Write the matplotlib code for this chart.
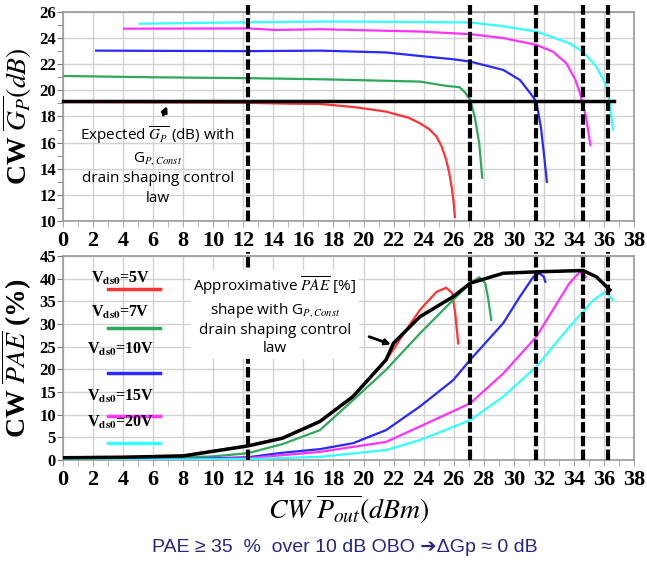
import numpy as np
import matplotlib
matplotlib.use("Agg")
import matplotlib.pyplot as plt

plt.rcParams['mathtext.fontset'] = 'stix'

# Gp (dB) vs Pout (dBm), one curve per Vds0
gp_red_x = [0, 6, 12, 15, 17.1, 19.5, 21.5, 23, 23.75, 24.4, 24.86, 25.2, 25.5, 25.7, 25.86, 26.0, 26.08]
gp_red_y = [19.1, 19.08, 19.05, 18.98, 18.96, 18.7, 18.37, 17.9, 17.48, 17.0, 16.45, 15.7, 14.67, 13.7, 12.63, 11.4, 10.3]
gp_green_x = [0, 6, 12.4, 17.1, 23.75, 25.5, 26.4, 26.8, 27.1, 27.4, 27.7, 27.9]
gp_green_y = [21.1, 21.0, 20.93, 20.85, 20.67, 20.34, 20.24, 19.78, 19.26, 17.99, 15.95, 13.3]
gp_blue_x = [2.2, 12.3, 17.1, 21.5, 23.75, 25.96, 27.1, 29.3, 30.4, 31.1, 31.5, 31.8, 32.0, 32.2]
gp_blue_y = [23.04, 23.0, 23.04, 22.9, 22.63, 22.38, 22.2, 21.56, 20.8, 19.78, 19.13, 17.2, 15.2, 13.0]
gp_mag_x = [4.06, 12.3, 14.2, 17.1, 23.75, 27.1, 29.3, 31.5, 32.6, 33.5, 34.1, 34.4, 34.8, 35.1]
gp_mag_y = [24.72, 24.74, 24.62, 24.68, 24.5, 24.3, 24.0, 23.48, 22.96, 22.07, 20.8, 19.8, 18.0, 15.8]
gp_cyan_x = [5.1, 11.6, 17.9, 27.1, 29.3, 31.5, 33.7, 34.6, 35.5, 36.1, 36.4, 36.6]
gp_cyan_y = [25.1, 25.2, 25.27, 25.2, 24.9, 24.5, 23.6, 22.96, 21.8, 20.5, 19.0, 17.0]
gp_const = 19.2
gp_const_xmax = 36.7

# PAE (%) vs Pout (dBm)
pae_black_x = [0, 4, 8, 12.3, 14.6, 17.1, 19.3, 21.5, 22.0, 23.75, 25.96, 27.1, 29.3, 31.5, 34.6, 35.5, 36.4]
pae_black_y = [0.5, 0.6, 0.9, 3.1, 4.8, 8.5, 14.0, 22.1, 25.8, 31.6, 36.0, 39.0, 41.2, 41.5, 41.8, 40.4, 37.5]
pae_red_x = [0, 4, 8, 12.3, 14.6, 17.1, 19.3, 21.5, 22.5, 23.75, 24.86, 25.5, 25.9, 26.1, 26.3]
pae_red_y = [0.6, 0.7, 1.0, 3.2, 4.9, 8.6, 14.1, 22.0, 27.0, 33.1, 37.1, 38.0, 36.8, 32.4, 25.7]
pae_green_x = [0, 6, 10, 12.3, 14.6, 17.1, 19.3, 21.5, 23.75, 25.96, 27.1, 27.7, 28.1, 28.3, 28.5]
pae_green_y = [0.3, 0.4, 0.8, 1.5, 3.5, 6.6, 13.2, 19.9, 27.9, 35.3, 39.0, 40.3, 39.0, 35.5, 30.9]
pae_blue_x = [0, 8, 12.3, 14.6, 17.1, 19.3, 21.5, 23.75, 25.96, 27.1, 29.3, 30.4, 31.3, 31.7, 32.0, 32.1]
pae_blue_y = [0.1, 0.2, 0.6, 1.6, 2.4, 3.7, 6.6, 11.8, 17.6, 22.1, 30.2, 36.0, 40.4, 41.2, 40.4, 39.3]
pae_mag_x = [0, 8, 12.3, 17.1, 21.5, 23.75, 27.1, 29.3, 31.5, 32.6, 33.7, 34.4, 34.8]
pae_mag_y = [0.0, 0.1, 0.4, 1.8, 4.0, 7.4, 12.5, 19.1, 27.2, 33.1, 39.0, 41.5, 40.4]
pae_cyan_x = [0, 8, 12.3, 17.1, 21.5, 23.75, 27.1, 29.3, 31.5, 33.7, 35.3, 36.1, 36.6]
pae_cyan_y = [0.0, 0.1, 0.2, 0.7, 2.2, 4.4, 8.8, 14.0, 20.6, 29.4, 35.3, 37.1, 35.3]

obo_marks = [12.3, 27.1, 31.5, 34.6, 36.3]
legend_labels = ["5V", "7V", "10V", "15V", "20V"]
colors = ["#ff3333", "#2fa85a", "#2828ff", "#ff33ff", "#33ffff"]

fig = plt.figure(figsize=(6.47, 5.75), dpi=100)
ax1 = fig.add_axes([0.0974, 0.6157, 0.8825, 0.3635])
ax2 = fig.add_axes([0.0974, 0.2, 0.8825, 0.3548])

tick_font = dict(family="Liberation Serif", weight="bold")


def style(ax, ymin, ymax, ystep):
    ax.set_xlim(0, 38)
    ax.set_ylim(ymin, ymax)
    ax.set_xticks(np.arange(0, 39, 2))
    ax.set_xticks(np.arange(0, 39, 1), minor=True)
    ax.set_yticks(np.arange(ymin, ymax + 0.1, ystep))
    ax.grid(True, which="major", color="#d2d2d2", lw=1)
    for s in ax.spines.values():
        s.set_color("#999999")
        s.set_linewidth(1.2)
    ax.tick_params(axis="x", which="both", length=4, color="#aaaaaa", pad=3)
    ax.tick_params(axis="y", which="both", length=4, color="#777777", pad=1)
    for lab in ax.get_xticklabels():
        lab.set_fontproperties(tick_font)
        lab.set_fontsize(16)
    for lab in ax.get_yticklabels():
        lab.set_fontproperties(tick_font)
        lab.set_fontsize(12)


style(ax1, 10, 26, 2)
ax1.set_yticks(np.arange(10, 27, 1), minor=True)
style(ax2, 0, 45, 5)

# top panel
for (x, y), c in zip([(gp_red_x, gp_red_y), (gp_green_x, gp_green_y), (gp_blue_x, gp_blue_y),
                      (gp_mag_x, gp_mag_y), (gp_cyan_x, gp_cyan_y)], colors):
    ax1.plot(x, y, color=c, lw=1.6, zorder=3)
ax1.plot([0, gp_const_xmax], [gp_const, gp_const], color="black", lw=2.5, zorder=4, clip_on=False)
for xm in obo_marks:
    ax1.axvline(xm, ymin=0, ymax=1.035, color="black", lw=3, ls=(0, (2.5, 0.8)), zorder=5, clip_on=False)

ax1.text(6.3, 14.3, "Expected $\\overline{G_P}$ (dB) with\nG$_{P,Const}$\ndrain shaping control\nlaw",
         ha="center", va="center", fontsize=11, family="Open Sans", linespacing=1.4, zorder=6)
ax1.annotate("", xy=(7.0, 19.0), xytext=(6.6, 17.9),
             arrowprops=dict(arrowstyle="-|>", color="black", lw=2, mutation_scale=8), zorder=6)
ax1.set_ylabel("CW $\\overline{G_P}(dB)$", fontsize=20, family="Liberation Serif", weight="bold", labelpad=4)

# bottom panel
for (x, y), c in zip([(pae_red_x, pae_red_y), (pae_green_x, pae_green_y), (pae_blue_x, pae_blue_y),
                      (pae_mag_x, pae_mag_y), (pae_cyan_x, pae_cyan_y)], colors):
    ax2.plot(x, y, color=c, lw=1.6, zorder=3)
ax2.plot(pae_black_x, pae_black_y, color="black", lw=2.5, zorder=4)
for xm in obo_marks:
    ax2.axvline(xm, ymin=0, ymax=1.02, color="black", lw=3, ls=(0, (2.5, 0.8)), zorder=5, clip_on=False)

ax2.text(14.1, 31.9, "Approximative $\\overline{PAE}$ [%]\nshape with G$_{P,Const}$\ndrain shaping control\nlaw",
         ha="center", va="center", fontsize=11, family="Open Sans", linespacing=1.3, zorder=6,
         bbox=dict(facecolor="white", edgecolor="none", pad=2))
ax2.annotate("", xy=(22.0, 25.3), xytext=(20.2, 27.4),
             arrowprops=dict(arrowstyle="-|>", color="black", lw=2, mutation_scale=8), zorder=6)

# legend: label above a short coloured line
leg_text_y = [0.89, 0.725, 0.54, 0.31, 0.186]
leg_line_y = [0.838, 0.647, 0.426, 0.216, 0.083]
for lab, c, ty, ly in zip(legend_labels, colors, leg_text_y, leg_line_y):
    ax2.text(0.1, ty, "V$_{\\mathbf{ds0}}$=" + lab, transform=ax2.transAxes, ha="center", va="center",
             fontsize=11.5, family="Liberation Serif", weight="bold", zorder=6)
    ax2.plot([0.079, 0.17], [ly, ly], transform=ax2.transAxes, color=c, lw=2.5, zorder=6)

ax2.set_ylabel("CW $\\overline{PAE}$ (%)", fontsize=20, family="Liberation Serif", weight="bold", labelpad=4)
ax2.set_xlabel("$CW\\ \\overline{P_{out}}(dBm)$", fontsize=20, labelpad=2)

fig.text(0.533, 0.047, "PAE ≥ 35  %  over 10 dB OBO ➔ΔGp ≈ 0 dB", ha="center", va="center",
         fontsize=14, color="#262680", family=["Liberation Sans Narrow", "Liberation Sans", "DejaVu Sans"])

fig.savefig("out.png", dpi=100)
